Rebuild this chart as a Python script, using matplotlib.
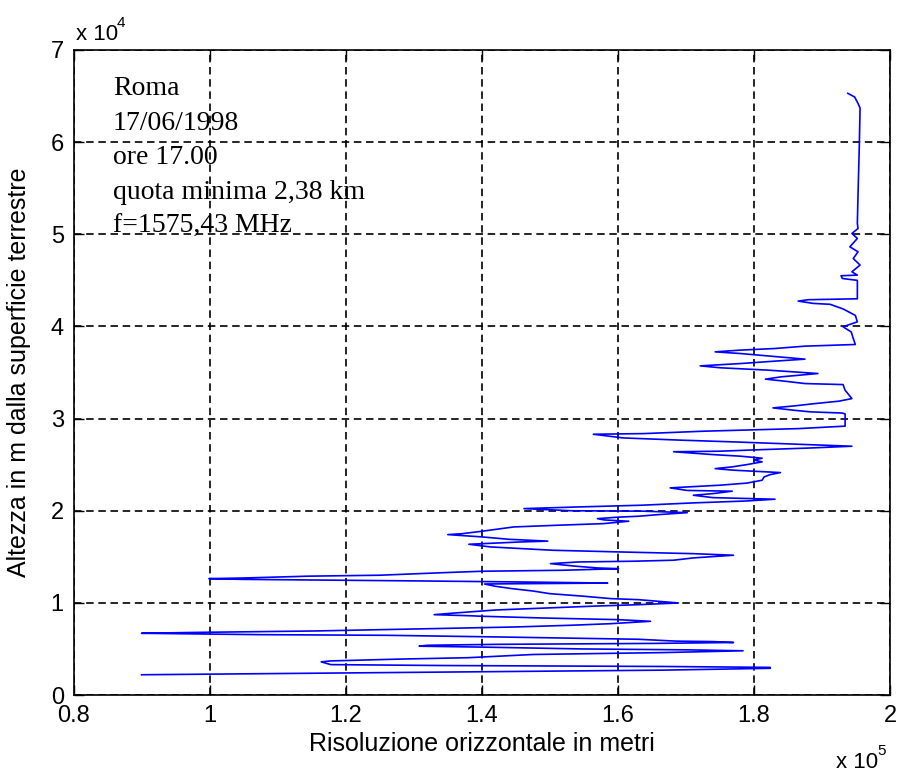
import matplotlib
matplotlib.use("Agg")
import matplotlib.pyplot as plt

# risoluzione orizzontale (in unita' di 1e5 m)
risoluzione = [
    0.900, 1.052, 1.359, 1.666, 1.824,
    1.824, 1.663, 1.344, 1.178, 1.164,
    1.178, 1.280, 1.380, 1.476, 1.663, 1.784,
    1.704, 1.548, 1.400, 1.308,
    1.320, 1.424, 1.652, 1.770,
    1.740, 1.685, 1.630, 1.425, 1.260, 1.076, 0.900,
    0.985, 1.154, 1.325, 1.447, 1.531, 1.589, 1.648,
    1.600, 1.489, 1.399, 1.384, 1.330,
    1.360, 1.421, 1.497, 1.570, 1.629, 1.689,
    1.660, 1.630, 1.590, 1.550, 1.500, 1.475, 1.445, 1.420, 1.404,
    1.500, 1.585,
    1.480, 1.310, 1.146, 1.049, 0.999,
    1.050, 1.146, 1.250, 1.344, 1.400, 1.520, 1.601,
    1.570, 1.535, 1.501,
    1.542, 1.623, 1.682, 1.711, 1.770,
    1.711, 1.601, 1.504, 1.457, 1.413, 1.381,
    1.457, 1.497,
    1.440, 1.400, 1.350,
    1.370, 1.400, 1.447, 1.513, 1.579, 1.616,
    1.580, 1.570,
    1.600, 1.630, 1.660, 1.702,
    1.638, 1.531, 1.462,
    1.542, 1.636, 1.711, 1.790, 1.831,
    1.740, 1.711,
    1.740, 1.768,
    1.702, 1.677,
    1.750, 1.790, 1.812, 1.815, 1.824, 1.839,
    1.770, 1.743,
    1.768, 1.790, 1.812, 1.800, 1.812,
    1.780, 1.740, 1.682,
    1.750, 1.800, 1.880, 1.944,
    1.839, 1.770, 1.692, 1.608, 1.564,
    1.638, 1.726, 1.865, 1.934,
    1.934, 1.930, 1.883, 1.858, 1.828,
    1.860, 1.890, 1.925, 1.944, 1.940, 1.934, 1.931,
    1.875, 1.845, 1.817,
    1.840, 1.894,
    1.820, 1.751, 1.721,
    1.780, 1.830, 1.875,
    1.820, 1.780, 1.743,
    1.780, 1.830, 1.875, 1.949,
    1.946, 1.943, 1.931, 1.952, 1.949, 1.931, 1.912, 1.887, 1.865, 1.880, 1.952,
    1.952, 1.930, 1.928, 1.952, 1.944, 1.956, 1.946, 1.953, 1.941, 1.952,
    1.944, 1.953, 1.952, 1.953, 1.955, 1.956, 1.953, 1.948, 1.938,
]

# altezza dalla superficie (in unita' di 1e4 m)
altezza = [
    0.220, 0.230, 0.250, 0.270, 0.290,
    0.300, 0.310, 0.320, 0.330, 0.360,
    0.370, 0.390, 0.405, 0.440, 0.460, 0.480,
    0.490, 0.500, 0.520, 0.530,
    0.540, 0.550, 0.560, 0.570,
    0.580, 0.585, 0.605, 0.630, 0.648, 0.655, 0.670,
    0.680, 0.695, 0.720, 0.738, 0.757, 0.774, 0.800,
    0.818, 0.836, 0.855, 0.860, 0.872,
    0.890, 0.923, 0.945, 0.966, 0.980, 0.999,
    1.017, 1.035, 1.046, 1.072, 1.100, 1.129, 1.154, 1.180, 1.205,
    1.210, 1.215,
    1.225, 1.238, 1.248, 1.255, 1.263,
    1.270, 1.290, 1.300, 1.328, 1.343, 1.354, 1.371,
    1.379, 1.400, 1.426,
    1.444, 1.452, 1.463, 1.488, 1.517,
    1.534, 1.553, 1.571, 1.589, 1.607, 1.636,
    1.661, 1.670,
    1.690, 1.716, 1.741,
    1.750, 1.777, 1.824, 1.843, 1.860, 1.886,
    1.900, 1.914,
    1.930, 1.940, 1.958, 1.979,
    1.995, 2.000, 2.023,
    2.041, 2.060, 2.085, 2.106, 2.125,
    2.142, 2.168,
    2.186, 2.212,
    2.220, 2.248,
    2.277, 2.300, 2.331, 2.367, 2.392, 2.414,
    2.440, 2.457,
    2.476, 2.501, 2.530, 2.550, 2.570,
    2.592, 2.609, 2.640,
    2.646, 2.660, 2.680, 2.700,
    2.729, 2.747, 2.766, 2.790, 2.830,
    2.837, 2.863, 2.891, 2.918,
    3.050, 3.060, 3.073, 3.091, 3.116,
    3.138, 3.163, 3.189, 3.217, 3.254, 3.308, 3.369,
    3.380, 3.406, 3.428,
    3.453, 3.489,
    3.526, 3.551, 3.572,
    3.597, 3.623, 3.645,
    3.681, 3.706, 3.724,
    3.743, 3.760, 3.786, 3.804,
    3.870, 3.940, 3.996, 4.050, 4.120, 4.190, 4.240, 4.250, 4.275, 4.290, 4.300,
    4.500, 4.520, 4.550, 4.557, 4.593, 4.666, 4.737, 4.810, 4.864, 4.955,
    5.009, 5.063, 5.117, 5.430, 6.000, 6.370, 6.420, 6.490, 6.530,
]

info = ["Roma", "17/06/1998", "ore 17.00", "quota minima 2,38 km", "f=1575,43 MHz"]
xticks = [0.8, 1.0, 1.2, 1.4, 1.6, 1.8, 2.0]
xlabels = ["0.8", "1", "1.2", "1.4", "1.6", "1.8", "2"]
yticks = [0, 1, 2, 3, 4, 5, 6, 7]

plt.rcParams["font.family"] = ["Liberation Sans", "DejaVu Sans"]

fig = plt.figure(figsize=(8.99, 7.75), dpi=100)
ax = fig.add_axes([0.0818, 0.1032, 0.9082, 0.8323])

ax.plot(risoluzione, altezza, color="#0000ff", linewidth=1.2)

ax.set_xlim(0.8, 2.0)
ax.set_ylim(0, 7)
ax.set_xticks(xticks)
ax.set_xticklabels(xlabels)
ax.set_yticks(yticks)
ax.grid(True, color="black", linestyle=(0, (4.5, 2.8)), linewidth=1.2)
ax.tick_params(direction="in", length=7, width=1, top=True, right=True,
               pad=7, labelsize=17, colors="black")
for s in ax.spines.values():
    s.set_linewidth(1.2)

ax.set_xlabel("Risoluzione orizzontale in metri", fontsize=18)
ax.xaxis.set_label_coords(0.5, -0.058)
ax.set_ylabel("Altezza in m dalla superficie terrestre", fontsize=18)
ax.yaxis.set_label_coords(-0.052, 0.5)

# moltiplicatori stile MATLAB
ax.text(0.003, 1.016, "x 10", transform=ax.transAxes, fontsize=16, va="baseline")
ax.text(0.053, 1.036, "4", transform=ax.transAxes, fontsize=11, va="baseline")
ax.text(0.934, -0.113, "x 10", transform=ax.transAxes, fontsize=16, va="baseline")
ax.text(0.984, -0.093, "5", transform=ax.transAxes, fontsize=11, va="baseline")

for i, riga in enumerate(info):
    ax.text(0.0484, 0.930 - i * 0.0535, riga, transform=ax.transAxes,
            fontsize=20, family="Liberation Serif", va="baseline")

fig.savefig("out.png", dpi=100)
